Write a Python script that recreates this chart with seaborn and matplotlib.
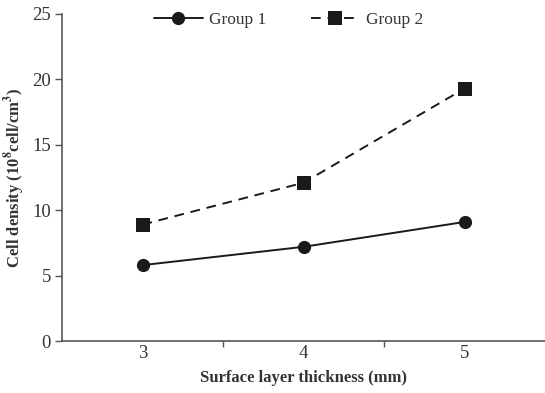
import matplotlib
matplotlib.use("Agg")
import matplotlib.pyplot as plt
import seaborn as sns
import pandas as pd
from matplotlib.ticker import FixedLocator

thickness = [3, 4, 5]
group1 = [5.8, 7.2, 9.1]
group2 = [8.9, 12.1, 19.3]
yticks = [0, 5, 10, 15, 20, 25]

df = pd.DataFrame({
    "x": thickness * 2,
    "y": group1 + group2,
    "group": ["Group 1"] * 3 + ["Group 2"] * 3,
})

sns.set_theme(style="white")
plt.rcParams["font.family"] = ["Liberation Serif", "DejaVu Serif"]
plt.rcParams["mathtext.fontset"] = "stix"

fig = plt.figure(figsize=(5.45, 3.93), dpi=100)
ax = fig.add_axes([62 / 545, 1 - 341 / 393, (545 - 62) / 545, (341 - 14) / 393])

sns.lineplot(data=df, x="x", y="y", hue="group", style="group",
             markers={"Group 1": "o", "Group 2": "s"},
             dashes={"Group 1": "", "Group 2": (5, 3.5)},
             palette={"Group 1": "#1a1a1a", "Group 2": "#1a1a1a"},
             markersize=9.5, linewidth=1.4, markeredgewidth=0, ax=ax)

ax.set_xlim(2.5, 5.5)
ax.set_ylim(0, 25)
ax.set_yticks(yticks)
ax.set_xticks(thickness)
ax.xaxis.set_minor_locator(FixedLocator([3.5, 4.5]))
ax.tick_params(axis="x", which="major", length=0, pad=3, labelsize=13.5, colors="#333333")
ax.tick_params(axis="x", which="minor", length=4, width=1, color="#555555", direction="out", bottom=True)
ax.tick_params(axis="y", length=5, width=1, color="#555555", direction="out", left=True,
               labelsize=13.5, labelcolor="#333333", pad=3)

for s in ["top", "right"]:
    ax.spines[s].set_visible(False)
for s in ["left", "bottom"]:
    ax.spines[s].set_color("#555555")
    ax.spines[s].set_linewidth(1.2)

ax.set_xlabel("Surface layer thickness (mm)", fontsize=12, fontweight="bold", color="#333333", labelpad=6)
ax.set_ylabel(r"Cell density (10$^{\mathbf{8}}$cell/cm$^{\mathbf{3}}$)", fontsize=12,
              fontweight="bold", color="#333333", labelpad=4)

leg = ax.legend(loc="upper center", bbox_to_anchor=(0.469, 1.055), ncol=2, frameon=False,
                fontsize=12.5, handlelength=2.8, columnspacing=2.6, handletextpad=0.35)
for t in leg.get_texts():
    t.set_color("#333333")

fig.savefig("out.png", dpi=100)
